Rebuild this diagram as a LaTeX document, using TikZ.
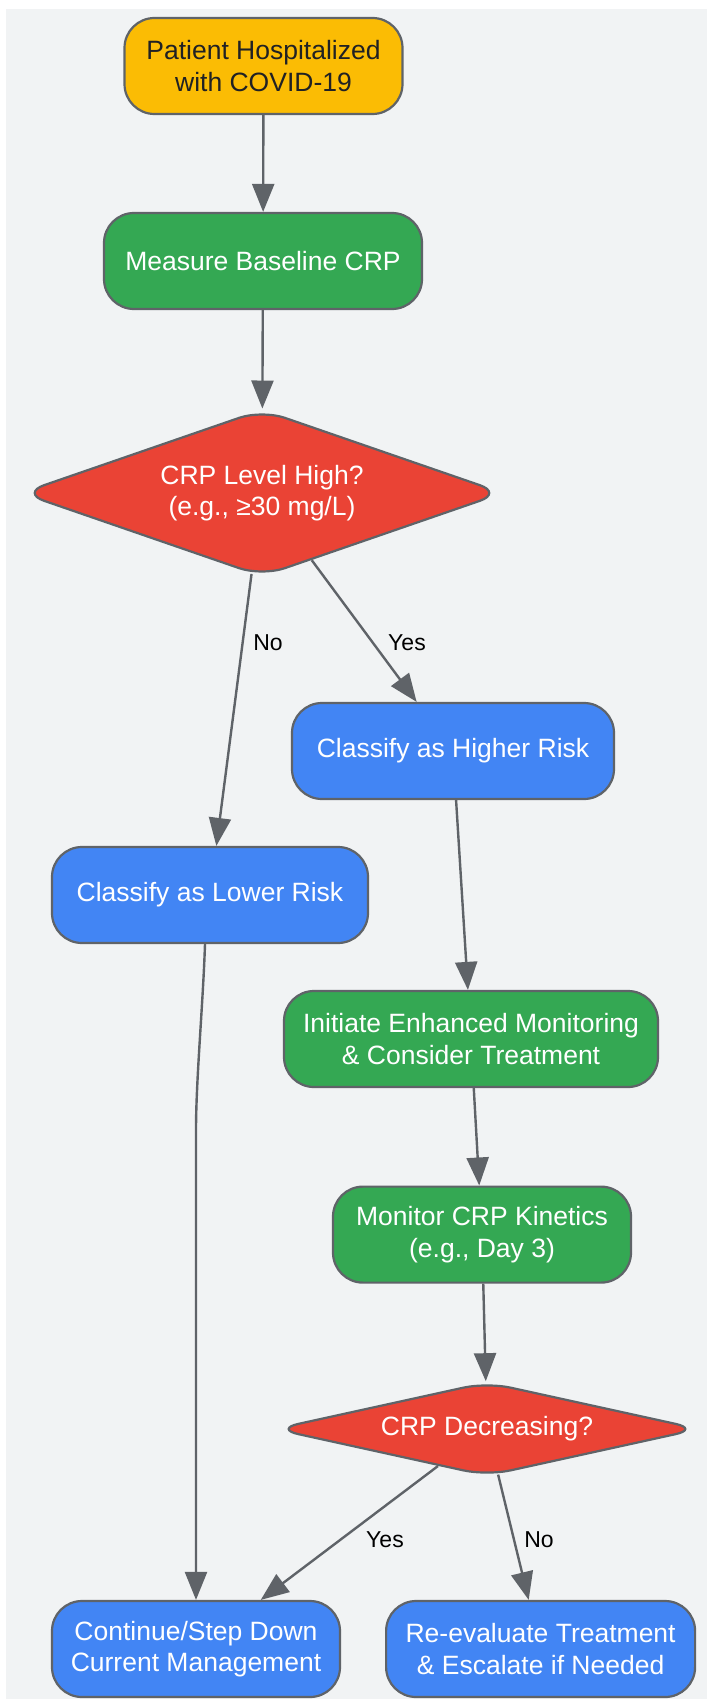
\documentclass[tikz,border=0pt]{standalone}
\usepackage{fontspec}
\setmainfont{Liberation Sans}
\usetikzlibrary{shapes.geometric,arrows.meta,calc}
\definecolor{yellowc}{HTML}{FBBC04}
\definecolor{greenc}{HTML}{34A853}
\definecolor{redc}{HTML}{EA4335}
\definecolor{bluec}{HTML}{4285F4}
\definecolor{strokec}{HTML}{5F6368}
\definecolor{bgc}{HTML}{F1F3F4}
\definecolor{darkc}{HTML}{202124}
\begin{document}
\begin{tikzpicture}[x=1pt,y=-1pt,
  box/.style={rectangle, rounded corners=30pt, draw=strokec, line width=2.2pt, inner sep=0pt, minimum height=96pt, align=center, text=white, font=\fontsize{26.5}{31.5}\selectfont},
  decision/.style={diamond, rounded corners=24pt, draw=strokec, line width=2.2pt, fill=redc, inner sep=0pt, align=center, text=white, font=\fontsize{26.5}{31.5}\selectfont},
  conn/.style={draw=strokec, line width=2.4pt, -{Triangle[length=28pt,width=22pt]}},
  lbl/.style={font=\fontsize{23}{27}\selectfont, text=black, inner sep=0pt}]
\useasboundingbox (0,0) rectangle (707,1699);
\fill[bgc] (6,9) rectangle (707,1699);

\node[box, fill=yellowc, text=darkc, minimum width=278pt] (p) at (263.5,66) {Patient Hospitalized\\with COVID-19};
\node[box, fill=greenc, minimum width=318pt] (m) at (263,261) {Measure Baseline CRP};
\node[decision, aspect=2.9, minimum width=482pt, minimum height=167pt] (d1) at (262,493) {CRP Level High?\\(e.g., ≥30 mg/L)};
\node[box, fill=bluec, minimum width=322pt] (hi) at (453,751) {Classify as Higher Risk};
\node[box, fill=bluec, minimum width=316pt] (lo) at (210,895) {Classify as Lower Risk};
\node[box, fill=greenc, minimum width=374pt] (init) at (471,1039) {Initiate Enhanced Monitoring\\\& Consider Treatment};
\node[box, fill=greenc, minimum width=298pt] (mon) at (482,1234.6) {Monitor CRP Kinetics\\(e.g., Day 3)};
\node[decision, aspect=4.5, minimum width=425pt, minimum height=94pt] (d2) at (487,1429) {CRP Decreasing?};
\node[box, fill=bluec, minimum width=288pt] (cont) at (196,1649) {Continue/Step Down\\Current Management};
\node[box, fill=bluec, minimum width=309pt] (re) at (540.6,1649) {Re-evaluate Treatment\\\& Escalate if Needed};

\draw[conn] (p) -- (m);
\draw[conn] (m) -- (d1);
\draw[conn] (d1) -- (lo);
\draw[conn] (d1) -- (hi);
\draw[conn] (hi) -- (init);
\draw[conn] (init) -- (mon);
\draw[conn] (mon) -- (d2);
\draw[conn] (d2) -- (cont);
\draw[conn] (d2) -- (re);
\draw[conn] ($(lo.south)+(-5,0)$) .. controls ($(lo.south)+(-7,60)$) and ($(cont.north)+(0,-520)$) .. ($(cont.north)+(0,-470)$) -- (cont.north);

\node[lbl] (l1) at (268,643) {No};
\node[lbl] (l2) at (407,643) {Yes};
\node[lbl] (l3) at (385,1540) {Yes};
\node[lbl] (l4) at (539,1540) {No};
\end{tikzpicture}
\end{document}
